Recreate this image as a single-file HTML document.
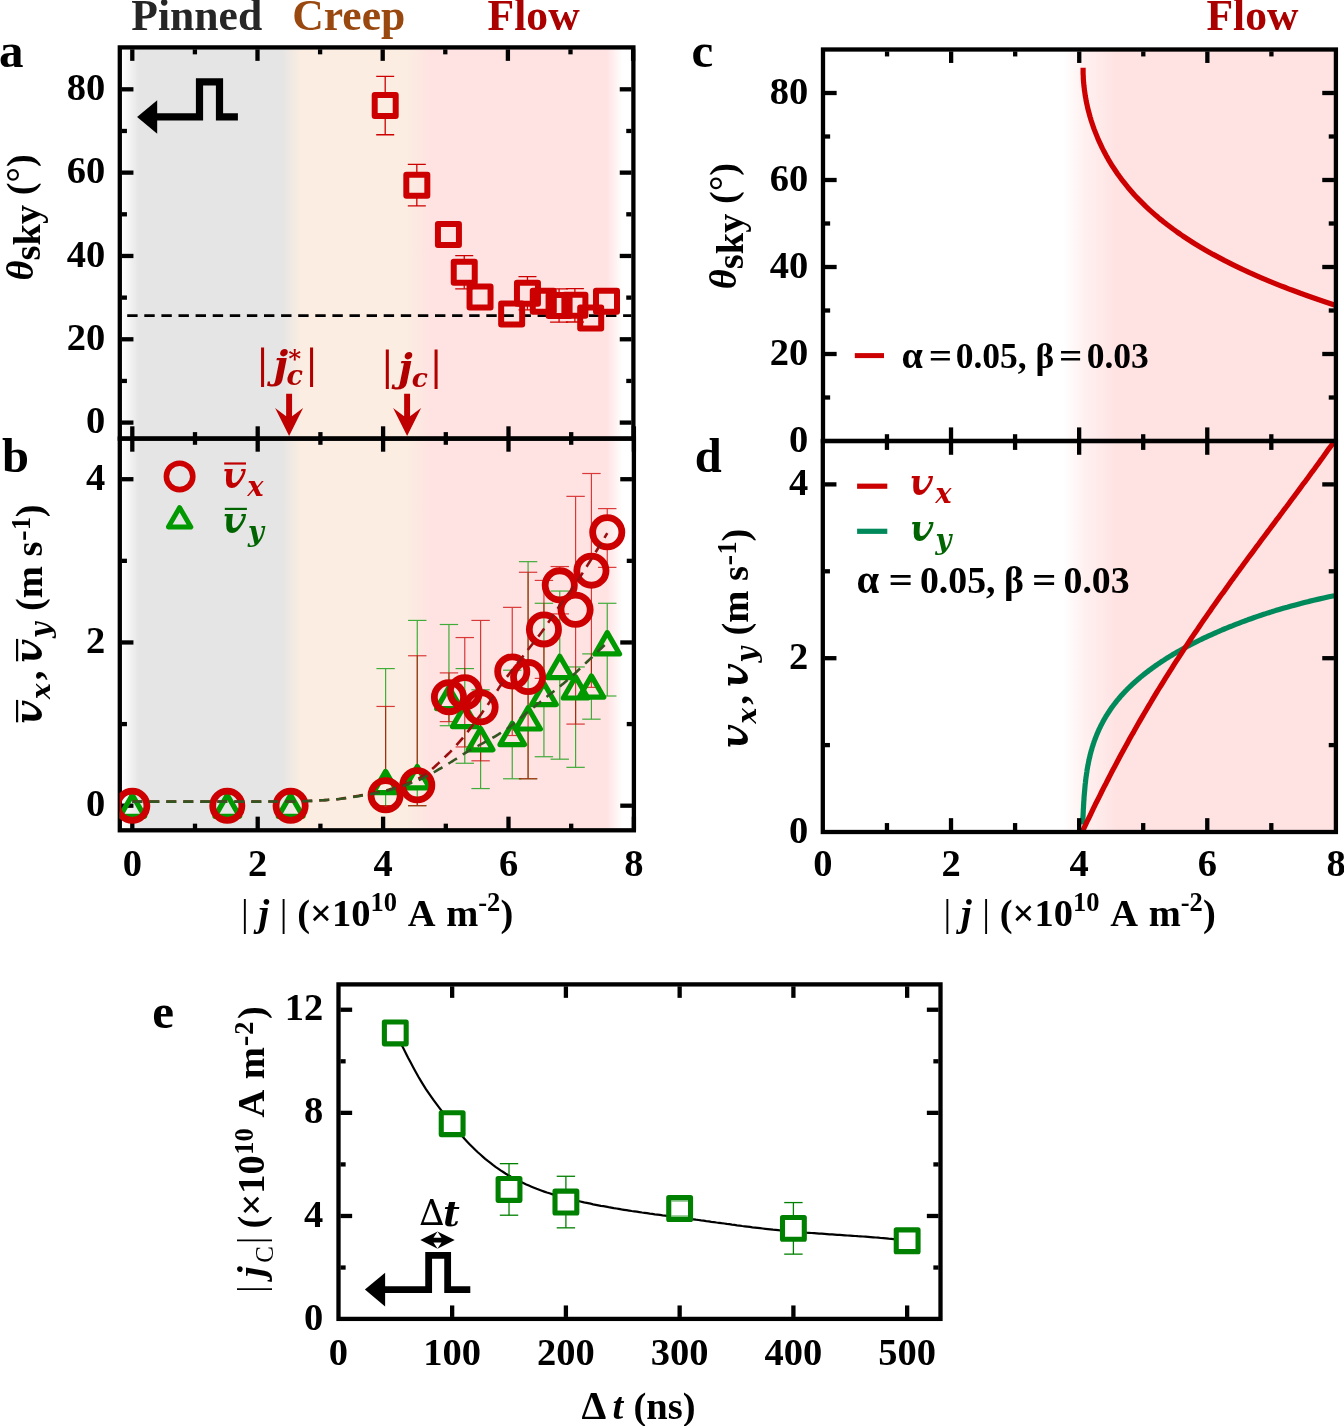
<!DOCTYPE html>
<html lang="en"><head><meta charset="utf-8"><title>Figure</title>
<style>html,body{margin:0;padding:0;background:#fff}svg{display:block;will-change:transform}text{white-space:pre}</style></head>
<body>
<svg width="1344" height="1426" viewBox="0 0 1344 1426">
<defs>
<linearGradient id="gab" gradientUnits="userSpaceOnUse" x1="0" y1="0" x2="1344" y2="0">
<stop offset="0.09040" stop-color="#ffffff"/>
<stop offset="0.10342" stop-color="#e5e5e5"/>
<stop offset="0.20982" stop-color="#e5e5e5"/>
<stop offset="0.22396" stop-color="#fbede1"/>
<stop offset="0.30283" stop-color="#fbede1"/>
<stop offset="0.32106" stop-color="#ffe2e2"/>
<stop offset="0.45126" stop-color="#ffe2e2"/>
<stop offset="0.46317" stop-color="#ffffff"/>
</linearGradient>
<linearGradient id="gcd" gradientUnits="userSpaceOnUse" x1="0" y1="0" x2="1344" y2="0">
<stop offset="0.79092" stop-color="#ffffff"/>
<stop offset="0.80729" stop-color="#fff0f0"/>
<stop offset="0.83185" stop-color="#ffe2e2"/>
<stop offset="1.00000" stop-color="#ffe2e2"/>
</linearGradient>
<clipPath id="clipa"><rect x="119.8" y="47.4" width="513.6" height="391.20000000000005"/></clipPath>
<clipPath id="clipb"><rect x="119.5" y="438.6" width="514.4" height="391.69999999999993"/></clipPath>
<clipPath id="clipd"><rect x="822.8" y="439.0" width="515.1000000000001" height="393.0"/></clipPath>
</defs>
<rect x="119.8" y="47.4" width="514.1" height="782.9" fill="url(#gab)"/>
<rect x="823.0" y="49.5" width="512.9000000000001" height="782.5" fill="url(#gcd)"/>
<text x="131.30" y="30.00" font-family="Liberation Serif, serif" font-size="43.6" font-weight="bold" font-style="normal" text-anchor="start" fill="#262626" >Pinned</text>
<text x="292.30" y="30.00" font-family="Liberation Serif, serif" font-size="43.6" font-weight="bold" font-style="normal" text-anchor="start" fill="#99480f" >Creep</text>
<text x="487.60" y="30.00" font-family="Liberation Serif, serif" font-size="43.6" font-weight="bold" font-style="normal" text-anchor="start" fill="#aa0000" >Flow</text>
<text x="1206.40" y="30.00" font-family="Liberation Serif, serif" font-size="43.6" font-weight="bold" font-style="normal" text-anchor="start" fill="#aa0000" >Flow</text>
<text x="-1.00" y="67.40" font-family="Liberation Serif, serif" font-size="49" font-weight="bold" font-style="normal" text-anchor="start" fill="#000" >a</text>
<text x="2.00" y="471.60" font-family="Liberation Serif, serif" font-size="48.5" font-weight="bold" font-style="normal" text-anchor="start" fill="#000" >b</text>
<text x="691.50" y="67.40" font-family="Liberation Serif, serif" font-size="49" font-weight="bold" font-style="normal" text-anchor="start" fill="#000" >c</text>
<text x="694.80" y="471.60" font-family="Liberation Serif, serif" font-size="48.5" font-weight="bold" font-style="normal" text-anchor="start" fill="#000" >d</text>
<text x="152.30" y="1027.50" font-family="Liberation Serif, serif" font-size="49" font-weight="bold" font-style="normal" text-anchor="start" fill="#000" >e</text>
<rect x="119.80" y="47.40" width="513.60" height="391.20" fill="none" stroke="#000" stroke-width="4.3"/>
<line x1="121.75" y1="422.60" x2="133.45" y2="422.60" stroke="#000" stroke-width="4.3" />
<line x1="631.45" y1="422.60" x2="619.75" y2="422.60" stroke="#000" stroke-width="4.3" />
<line x1="121.75" y1="339.28" x2="133.45" y2="339.28" stroke="#000" stroke-width="4.3" />
<line x1="631.45" y1="339.28" x2="619.75" y2="339.28" stroke="#000" stroke-width="4.3" />
<line x1="121.75" y1="255.96" x2="133.45" y2="255.96" stroke="#000" stroke-width="4.3" />
<line x1="631.45" y1="255.96" x2="619.75" y2="255.96" stroke="#000" stroke-width="4.3" />
<line x1="121.75" y1="172.64" x2="133.45" y2="172.64" stroke="#000" stroke-width="4.3" />
<line x1="631.45" y1="172.64" x2="619.75" y2="172.64" stroke="#000" stroke-width="4.3" />
<line x1="121.75" y1="89.32" x2="133.45" y2="89.32" stroke="#000" stroke-width="4.3" />
<line x1="631.45" y1="89.32" x2="619.75" y2="89.32" stroke="#000" stroke-width="4.3" />
<line x1="121.75" y1="380.94" x2="126.95" y2="380.94" stroke="#000" stroke-width="4.3" />
<line x1="631.45" y1="380.94" x2="626.25" y2="380.94" stroke="#000" stroke-width="4.3" />
<line x1="121.75" y1="297.62" x2="126.95" y2="297.62" stroke="#000" stroke-width="4.3" />
<line x1="631.45" y1="297.62" x2="626.25" y2="297.62" stroke="#000" stroke-width="4.3" />
<line x1="121.75" y1="214.30" x2="126.95" y2="214.30" stroke="#000" stroke-width="4.3" />
<line x1="631.45" y1="214.30" x2="626.25" y2="214.30" stroke="#000" stroke-width="4.3" />
<line x1="121.75" y1="130.98" x2="126.95" y2="130.98" stroke="#000" stroke-width="4.3" />
<line x1="631.45" y1="130.98" x2="626.25" y2="130.98" stroke="#000" stroke-width="4.3" />
<line x1="132.30" y1="49.35" x2="132.30" y2="60.85" stroke="#000" stroke-width="4.3" />
<line x1="257.50" y1="49.35" x2="257.50" y2="60.85" stroke="#000" stroke-width="4.3" />
<line x1="382.70" y1="49.35" x2="382.70" y2="60.85" stroke="#000" stroke-width="4.3" />
<line x1="507.90" y1="49.35" x2="507.90" y2="60.85" stroke="#000" stroke-width="4.3" />
<line x1="633.10" y1="49.35" x2="633.10" y2="60.85" stroke="#000" stroke-width="4.3" />
<line x1="194.90" y1="49.35" x2="194.90" y2="54.35" stroke="#000" stroke-width="4.3" />
<line x1="320.10" y1="49.35" x2="320.10" y2="54.35" stroke="#000" stroke-width="4.3" />
<line x1="445.30" y1="49.35" x2="445.30" y2="54.35" stroke="#000" stroke-width="4.3" />
<line x1="570.50" y1="49.35" x2="570.50" y2="54.35" stroke="#000" stroke-width="4.3" />
<text x="105.30" y="433.20" font-family="Liberation Serif, serif" font-size="38.5" font-weight="bold" font-style="normal" text-anchor="end" fill="#000" >0</text>
<text x="105.30" y="349.88" font-family="Liberation Serif, serif" font-size="38.5" font-weight="bold" font-style="normal" text-anchor="end" fill="#000" >20</text>
<text x="105.30" y="266.56" font-family="Liberation Serif, serif" font-size="38.5" font-weight="bold" font-style="normal" text-anchor="end" fill="#000" >40</text>
<text x="105.30" y="183.24" font-family="Liberation Serif, serif" font-size="38.5" font-weight="bold" font-style="normal" text-anchor="end" fill="#000" >60</text>
<text x="105.30" y="99.92" font-family="Liberation Serif, serif" font-size="38.5" font-weight="bold" font-style="normal" text-anchor="end" fill="#000" >80</text>
<text transform="rotate(-90)" x="-280.50" y="33.40" font-family="Liberation Serif, serif" font-size="38.5" font-weight="bold" fill="#000"><tspan font-style="italic">θ</tspan><tspan dy="7">sky</tspan><tspan dy="-7"> (°)</tspan></text>
<line x1="127.20" y1="315.60" x2="631.40" y2="315.60" stroke="#000" stroke-width="2.6" stroke-dasharray="10.4 6.7"/>
<path d="M237.90,116.95 H219.50 V81.80 H199.50 V116.95 H156.20" fill="none" stroke="#000" stroke-width="7.2" stroke-linejoin="miter"/>
<polygon points="137.10,116.95 157.20,100.20 157.20,133.70" fill="#000"/>
<g clip-path="url(#clipa)">
<g stroke="#cc0000" stroke-width="1.3" opacity="1">
<line x1="385.20" y1="76.41" x2="385.20" y2="93.07"/>
<line x1="385.20" y1="118.07" x2="385.20" y2="134.73"/>
<line x1="376.20" y1="76.41" x2="394.20" y2="76.41"/>
<line x1="376.20" y1="134.73" x2="394.20" y2="134.73"/>
</g>
<g stroke="#cc0000" stroke-width="1.3" opacity="1">
<line x1="416.82" y1="164.31" x2="416.82" y2="172.64"/>
<line x1="416.82" y1="197.64" x2="416.82" y2="205.97"/>
<line x1="407.82" y1="164.31" x2="425.82" y2="164.31"/>
<line x1="407.82" y1="205.97" x2="425.82" y2="205.97"/>
</g>
<g stroke="#cc0000" stroke-width="1.3" opacity="1">
<line x1="464.24" y1="255.54" x2="464.24" y2="259.71"/>
<line x1="464.24" y1="284.71" x2="464.24" y2="288.87"/>
<line x1="455.24" y1="255.54" x2="473.24" y2="255.54"/>
<line x1="455.24" y1="288.87" x2="473.24" y2="288.87"/>
</g>
<g stroke="#cc0000" stroke-width="1.3" opacity="1">
<line x1="527.46" y1="276.54" x2="527.46" y2="280.70"/>
<line x1="527.46" y1="305.70" x2="527.46" y2="309.87"/>
<line x1="518.46" y1="276.54" x2="536.46" y2="276.54"/>
<line x1="518.46" y1="309.87" x2="536.46" y2="309.87"/>
</g>
<g stroke="#cc0000" stroke-width="1.3" opacity="1">
<line x1="559.08" y1="288.87" x2="559.08" y2="293.04"/>
<line x1="559.08" y1="318.04" x2="559.08" y2="322.20"/>
<line x1="550.08" y1="288.87" x2="568.08" y2="288.87"/>
<line x1="550.08" y1="322.20" x2="568.08" y2="322.20"/>
</g>
<g stroke="#cc0000" stroke-width="1.3" opacity="1">
<line x1="574.88" y1="288.66" x2="574.88" y2="292.83"/>
<line x1="574.88" y1="317.83" x2="574.88" y2="321.99"/>
<line x1="565.88" y1="288.66" x2="583.88" y2="288.66"/>
<line x1="565.88" y1="321.99" x2="583.88" y2="321.99"/>
</g>
<rect x="374.70" y="95.07" width="21" height="21" fill="none" stroke="#cc0000" stroke-width="6" stroke-linejoin="round"/>
<rect x="406.32" y="174.64" width="21" height="21" fill="none" stroke="#cc0000" stroke-width="6" stroke-linejoin="round"/>
<rect x="437.93" y="224.01" width="21" height="21" fill="none" stroke="#cc0000" stroke-width="6" stroke-linejoin="round"/>
<rect x="453.74" y="261.71" width="21" height="21" fill="none" stroke="#cc0000" stroke-width="6" stroke-linejoin="round"/>
<rect x="469.54" y="286.50" width="21" height="21" fill="none" stroke="#cc0000" stroke-width="6" stroke-linejoin="round"/>
<rect x="501.16" y="303.49" width="21" height="21" fill="none" stroke="#cc0000" stroke-width="6" stroke-linejoin="round"/>
<rect x="516.96" y="282.70" width="21" height="21" fill="none" stroke="#cc0000" stroke-width="6" stroke-linejoin="round"/>
<rect x="532.77" y="290.87" width="21" height="21" fill="none" stroke="#cc0000" stroke-width="6" stroke-linejoin="round"/>
<rect x="548.58" y="295.04" width="21" height="21" fill="none" stroke="#cc0000" stroke-width="6" stroke-linejoin="round"/>
<rect x="564.38" y="294.83" width="21" height="21" fill="none" stroke="#cc0000" stroke-width="6" stroke-linejoin="round"/>
<rect x="580.19" y="307.53" width="21" height="21" fill="none" stroke="#cc0000" stroke-width="6" stroke-linejoin="round"/>
<rect x="596.00" y="290.87" width="21" height="21" fill="none" stroke="#cc0000" stroke-width="6" stroke-linejoin="round"/>
</g>
<path d="M286.13,393.7 H292.07 V416.3 L303.10,408.0 L289.10,435.9 L275.10,408.0 L286.13,416.3 Z" fill="#c00000"/>
<path d="M404.13,393.7 H410.07 V416.3 L421.10,408.0 L407.10,435.9 L393.10,408.0 L404.13,416.3 Z" fill="#c00000"/>
<text x="257.20" y="379.70" font-family="DejaVu Math TeX Gyre, DejaVu Serif, Liberation Serif, serif" font-size="47.5" fill="#b00000" >|</text>
<text x="267.00" y="378.00" font-family="DejaVu Math TeX Gyre, DejaVu Serif, Liberation Serif, serif" font-size="40" fill="#b00000" >𝒋</text>
<text x="285.30" y="384.50" font-family="DejaVu Math TeX Gyre, DejaVu Serif, Liberation Serif, serif" font-size="27" fill="#b00000" >𝒄</text>
<text x="288.30" y="367.80" font-family="DejaVu Math TeX Gyre, DejaVu Serif, Liberation Serif, serif" font-size="26" fill="#b00000" >*</text>
<text x="306.20" y="379.70" font-family="DejaVu Math TeX Gyre, DejaVu Serif, Liberation Serif, serif" font-size="47.5" fill="#b00000" >|</text>
<text x="381.90" y="382.20" font-family="DejaVu Math TeX Gyre, DejaVu Serif, Liberation Serif, serif" font-size="47.5" fill="#b00000" >|</text>
<text x="391.40" y="380.50" font-family="DejaVu Math TeX Gyre, DejaVu Serif, Liberation Serif, serif" font-size="40" fill="#b00000" >𝒋</text>
<text x="410.60" y="387.00" font-family="DejaVu Math TeX Gyre, DejaVu Serif, Liberation Serif, serif" font-size="26.5" fill="#b00000" >𝒄</text>
<text x="430.70" y="382.20" font-family="DejaVu Math TeX Gyre, DejaVu Serif, Liberation Serif, serif" font-size="47.5" fill="#b00000" >|</text>
<rect x="119.80" y="438.60" width="514.10" height="391.70" fill="none" stroke="#000" stroke-width="4.3"/>
<line x1="121.75" y1="805.70" x2="133.45" y2="805.70" stroke="#000" stroke-width="4.3" />
<line x1="631.95" y1="805.70" x2="620.25" y2="805.70" stroke="#000" stroke-width="4.3" />
<line x1="121.75" y1="642.46" x2="133.45" y2="642.46" stroke="#000" stroke-width="4.3" />
<line x1="631.95" y1="642.46" x2="620.25" y2="642.46" stroke="#000" stroke-width="4.3" />
<line x1="121.75" y1="479.22" x2="133.45" y2="479.22" stroke="#000" stroke-width="4.3" />
<line x1="631.95" y1="479.22" x2="620.25" y2="479.22" stroke="#000" stroke-width="4.3" />
<line x1="121.75" y1="724.08" x2="126.95" y2="724.08" stroke="#000" stroke-width="4.3" />
<line x1="631.95" y1="724.08" x2="626.75" y2="724.08" stroke="#000" stroke-width="4.3" />
<line x1="121.75" y1="560.84" x2="126.95" y2="560.84" stroke="#000" stroke-width="4.3" />
<line x1="631.95" y1="560.84" x2="626.75" y2="560.84" stroke="#000" stroke-width="4.3" />
<line x1="132.30" y1="426.30" x2="132.30" y2="451.70" stroke="#000" stroke-width="4.3" />
<line x1="257.70" y1="426.30" x2="257.70" y2="451.70" stroke="#000" stroke-width="4.3" />
<line x1="383.10" y1="426.30" x2="383.10" y2="451.70" stroke="#000" stroke-width="4.3" />
<line x1="508.50" y1="426.30" x2="508.50" y2="451.70" stroke="#000" stroke-width="4.3" />
<line x1="633.90" y1="426.30" x2="633.90" y2="451.70" stroke="#000" stroke-width="4.3" />
<line x1="195.00" y1="432.10" x2="195.00" y2="444.80" stroke="#000" stroke-width="4.3" />
<line x1="320.40" y1="432.10" x2="320.40" y2="444.80" stroke="#000" stroke-width="4.3" />
<line x1="445.80" y1="432.10" x2="445.80" y2="444.80" stroke="#000" stroke-width="4.3" />
<line x1="571.20" y1="432.10" x2="571.20" y2="444.80" stroke="#000" stroke-width="4.3" />
<line x1="132.30" y1="830.30" x2="132.30" y2="816.65" stroke="#000" stroke-width="4.3" />
<line x1="257.70" y1="830.30" x2="257.70" y2="816.65" stroke="#000" stroke-width="4.3" />
<line x1="383.10" y1="830.30" x2="383.10" y2="816.65" stroke="#000" stroke-width="4.3" />
<line x1="508.50" y1="830.30" x2="508.50" y2="816.65" stroke="#000" stroke-width="4.3" />
<line x1="633.90" y1="830.30" x2="633.90" y2="816.65" stroke="#000" stroke-width="4.3" />
<line x1="195.00" y1="830.30" x2="195.00" y2="823.65" stroke="#000" stroke-width="4.3" />
<line x1="320.40" y1="830.30" x2="320.40" y2="823.65" stroke="#000" stroke-width="4.3" />
<line x1="445.80" y1="830.30" x2="445.80" y2="823.65" stroke="#000" stroke-width="4.3" />
<line x1="571.20" y1="830.30" x2="571.20" y2="823.65" stroke="#000" stroke-width="4.3" />
<g clip-path="url(#clipb)">
<g stroke="#009900" stroke-width="1.2" opacity="0.75">
<line x1="385.61" y1="668.58" x2="385.61" y2="770.53"/>
<line x1="385.61" y1="793.53" x2="385.61" y2="805.70"/>
<line x1="376.41" y1="668.58" x2="394.81" y2="668.58"/>
<line x1="376.41" y1="805.70" x2="394.81" y2="805.70"/>
</g>
<g stroke="#009900" stroke-width="1.2" opacity="0.75">
<line x1="417.27" y1="620.42" x2="417.27" y2="765.63"/>
<line x1="417.27" y1="788.63" x2="417.27" y2="805.70"/>
<line x1="408.07" y1="620.42" x2="426.47" y2="620.42"/>
<line x1="408.07" y1="805.70" x2="426.47" y2="805.70"/>
</g>
<g stroke="#009900" stroke-width="1.2" opacity="0.75">
<line x1="448.94" y1="624.50" x2="448.94" y2="686.46"/>
<line x1="448.94" y1="709.46" x2="448.94" y2="725.71"/>
<line x1="439.74" y1="624.50" x2="458.13" y2="624.50"/>
<line x1="439.74" y1="725.71" x2="458.13" y2="725.71"/>
</g>
<g stroke="#009900" stroke-width="1.2" opacity="0.75">
<line x1="464.77" y1="668.58" x2="464.77" y2="704.42"/>
<line x1="464.77" y1="727.42" x2="464.77" y2="763.26"/>
<line x1="455.57" y1="668.58" x2="473.97" y2="668.58"/>
<line x1="455.57" y1="763.26" x2="473.97" y2="763.26"/>
</g>
<g stroke="#009900" stroke-width="1.2" opacity="0.75">
<line x1="480.60" y1="689.80" x2="480.60" y2="727.68"/>
<line x1="480.60" y1="750.68" x2="480.60" y2="788.56"/>
<line x1="471.40" y1="689.80" x2="489.80" y2="689.80"/>
<line x1="471.40" y1="788.56" x2="489.80" y2="788.56"/>
</g>
<g stroke="#009900" stroke-width="1.2" opacity="0.75">
<line x1="512.26" y1="670.21" x2="512.26" y2="722.37"/>
<line x1="512.26" y1="745.37" x2="512.26" y2="778.77"/>
<line x1="503.06" y1="670.21" x2="521.46" y2="670.21"/>
<line x1="503.06" y1="778.77" x2="521.46" y2="778.77"/>
</g>
<g stroke="#009900" stroke-width="1.2" opacity="0.75">
<line x1="528.09" y1="561.66" x2="528.09" y2="706.87"/>
<line x1="528.09" y1="729.87" x2="528.09" y2="778.77"/>
<line x1="518.89" y1="561.66" x2="537.29" y2="561.66"/>
<line x1="518.89" y1="778.77" x2="537.29" y2="778.77"/>
</g>
<g stroke="#009900" stroke-width="1.2" opacity="0.75">
<line x1="543.93" y1="603.28" x2="543.93" y2="682.38"/>
<line x1="543.93" y1="705.38" x2="543.93" y2="756.73"/>
<line x1="534.73" y1="603.28" x2="553.13" y2="603.28"/>
<line x1="534.73" y1="756.73" x2="553.13" y2="756.73"/>
</g>
<g stroke="#009900" stroke-width="1.2" opacity="0.75">
<line x1="559.76" y1="591.04" x2="559.76" y2="655.45"/>
<line x1="559.76" y1="678.45" x2="559.76" y2="759.18"/>
<line x1="550.56" y1="591.04" x2="568.96" y2="591.04"/>
<line x1="550.56" y1="759.18" x2="568.96" y2="759.18"/>
</g>
<g stroke="#009900" stroke-width="1.2" opacity="0.75">
<line x1="575.59" y1="666.95" x2="575.59" y2="675.85"/>
<line x1="575.59" y1="698.85" x2="575.59" y2="767.34"/>
<line x1="566.39" y1="666.95" x2="584.79" y2="666.95"/>
<line x1="566.39" y1="767.34" x2="584.79" y2="767.34"/>
</g>
<g stroke="#009900" stroke-width="1.2" opacity="0.75">
<line x1="591.42" y1="653.89" x2="591.42" y2="675.03"/>
<line x1="591.42" y1="698.03" x2="591.42" y2="719.18"/>
<line x1="582.22" y1="653.89" x2="600.62" y2="653.89"/>
<line x1="582.22" y1="719.18" x2="600.62" y2="719.18"/>
</g>
<g stroke="#009900" stroke-width="1.2" opacity="0.75">
<line x1="607.25" y1="603.28" x2="607.25" y2="631.78"/>
<line x1="607.25" y1="654.78" x2="607.25" y2="696.00"/>
<line x1="598.05" y1="603.28" x2="616.45" y2="603.28"/>
<line x1="598.05" y1="696.00" x2="616.45" y2="696.00"/>
</g>
<g stroke="#cc0000" stroke-width="1.2" opacity="0.75">
<line x1="385.61" y1="706.45" x2="385.61" y2="778.17"/>
<line x1="376.41" y1="706.45" x2="394.81" y2="706.45"/>
<line x1="376.41" y1="805.70" x2="394.81" y2="805.70"/>
</g>
<g stroke="#cc0000" stroke-width="1.2" opacity="0.75">
<line x1="417.27" y1="655.76" x2="417.27" y2="768.21"/>
<line x1="417.27" y1="802.21" x2="417.27" y2="805.70"/>
<line x1="408.07" y1="655.76" x2="426.47" y2="655.76"/>
<line x1="408.07" y1="805.70" x2="426.47" y2="805.70"/>
</g>
<g stroke="#cc0000" stroke-width="1.2" opacity="0.75">
<line x1="448.94" y1="672.90" x2="448.94" y2="680.15"/>
<line x1="448.94" y1="714.15" x2="448.94" y2="721.63"/>
<line x1="439.74" y1="672.90" x2="458.13" y2="672.90"/>
<line x1="439.74" y1="721.63" x2="458.13" y2="721.63"/>
</g>
<g stroke="#cc0000" stroke-width="1.2" opacity="0.75">
<line x1="464.77" y1="637.56" x2="464.77" y2="675.25"/>
<line x1="464.77" y1="709.25" x2="464.77" y2="746.93"/>
<line x1="455.57" y1="637.56" x2="473.97" y2="637.56"/>
<line x1="455.57" y1="746.93" x2="473.97" y2="746.93"/>
</g>
<g stroke="#cc0000" stroke-width="1.2" opacity="0.75">
<line x1="480.60" y1="620.42" x2="480.60" y2="690.27"/>
<line x1="480.60" y1="724.27" x2="480.60" y2="760.81"/>
<line x1="471.40" y1="620.42" x2="489.80" y2="620.42"/>
<line x1="471.40" y1="760.81" x2="489.80" y2="760.81"/>
</g>
<g stroke="#cc0000" stroke-width="1.2" opacity="0.75">
<line x1="512.26" y1="607.36" x2="512.26" y2="654.44"/>
<line x1="512.26" y1="688.44" x2="512.26" y2="735.51"/>
<line x1="503.06" y1="607.36" x2="521.46" y2="607.36"/>
<line x1="503.06" y1="735.51" x2="521.46" y2="735.51"/>
</g>
<g stroke="#cc0000" stroke-width="1.2" opacity="0.75">
<line x1="528.09" y1="572.27" x2="528.09" y2="660.07"/>
<line x1="528.09" y1="694.07" x2="528.09" y2="778.77"/>
<line x1="518.89" y1="572.27" x2="537.29" y2="572.27"/>
<line x1="518.89" y1="778.77" x2="537.29" y2="778.77"/>
</g>
<g stroke="#cc0000" stroke-width="1.2" opacity="0.75">
<line x1="543.93" y1="580.43" x2="543.93" y2="612.40"/>
<line x1="543.93" y1="646.40" x2="543.93" y2="678.37"/>
<line x1="534.73" y1="580.43" x2="553.13" y2="580.43"/>
<line x1="534.73" y1="678.37" x2="553.13" y2="678.37"/>
</g>
<g stroke="#cc0000" stroke-width="1.2" opacity="0.75">
<line x1="559.76" y1="566.55" x2="559.76" y2="568.33"/>
<line x1="559.76" y1="602.33" x2="559.76" y2="613.89"/>
<line x1="550.56" y1="566.55" x2="568.96" y2="566.55"/>
<line x1="550.56" y1="613.89" x2="568.96" y2="613.89"/>
</g>
<g stroke="#cc0000" stroke-width="1.2" opacity="0.75">
<line x1="575.59" y1="496.36" x2="575.59" y2="592.81"/>
<line x1="575.59" y1="626.81" x2="575.59" y2="724.08"/>
<line x1="566.39" y1="496.36" x2="584.79" y2="496.36"/>
<line x1="566.39" y1="724.08" x2="584.79" y2="724.08"/>
</g>
<g stroke="#cc0000" stroke-width="1.2" opacity="0.75">
<line x1="591.42" y1="473.51" x2="591.42" y2="553.63"/>
<line x1="591.42" y1="587.63" x2="591.42" y2="687.35"/>
<line x1="582.22" y1="473.51" x2="600.62" y2="473.51"/>
<line x1="582.22" y1="687.35" x2="600.62" y2="687.35"/>
</g>
<g stroke="#cc0000" stroke-width="1.2" opacity="0.75">
<line x1="607.25" y1="508.60" x2="607.25" y2="515.27"/>
<line x1="607.25" y1="549.27" x2="607.25" y2="567.37"/>
<line x1="598.05" y1="508.60" x2="616.45" y2="508.60"/>
<line x1="598.05" y1="567.37" x2="616.45" y2="567.37"/>
</g>
<path d="M132.30,795.05 L144.60,816.35 L120.00,816.35 Z" fill="none" stroke="#009900" stroke-width="5.2" stroke-linejoin="round"/>
<path d="M227.29,795.05 L239.59,816.35 L214.99,816.35 Z" fill="none" stroke="#009900" stroke-width="5.2" stroke-linejoin="round"/>
<path d="M290.62,795.05 L302.92,816.35 L278.32,816.35 Z" fill="none" stroke="#009900" stroke-width="5.2" stroke-linejoin="round"/>
<path d="M385.61,771.38 L397.91,792.68 L373.31,792.68 Z" fill="none" stroke="#009900" stroke-width="5.2" stroke-linejoin="round"/>
<path d="M417.27,766.48 L429.57,787.79 L404.97,787.79 Z" fill="none" stroke="#009900" stroke-width="5.2" stroke-linejoin="round"/>
<path d="M448.94,687.31 L461.24,708.61 L436.63,708.61 Z" fill="none" stroke="#009900" stroke-width="5.2" stroke-linejoin="round"/>
<path d="M464.77,705.27 L477.07,726.57 L452.47,726.57 Z" fill="none" stroke="#009900" stroke-width="5.2" stroke-linejoin="round"/>
<path d="M480.60,728.53 L492.90,749.83 L468.30,749.83 Z" fill="none" stroke="#009900" stroke-width="5.2" stroke-linejoin="round"/>
<path d="M512.26,723.22 L524.56,744.53 L499.96,744.53 Z" fill="none" stroke="#009900" stroke-width="5.2" stroke-linejoin="round"/>
<path d="M528.09,707.71 L540.39,729.02 L515.79,729.02 Z" fill="none" stroke="#009900" stroke-width="5.2" stroke-linejoin="round"/>
<path d="M543.93,683.23 L556.23,704.53 L531.63,704.53 Z" fill="none" stroke="#009900" stroke-width="5.2" stroke-linejoin="round"/>
<path d="M559.76,656.29 L572.06,677.60 L547.46,677.60 Z" fill="none" stroke="#009900" stroke-width="5.2" stroke-linejoin="round"/>
<path d="M575.59,676.70 L587.89,698.00 L563.29,698.00 Z" fill="none" stroke="#009900" stroke-width="5.2" stroke-linejoin="round"/>
<path d="M591.42,675.88 L603.72,697.19 L579.12,697.19 Z" fill="none" stroke="#009900" stroke-width="5.2" stroke-linejoin="round"/>
<path d="M607.25,632.62 L619.55,653.93 L594.95,653.93 Z" fill="none" stroke="#009900" stroke-width="5.2" stroke-linejoin="round"/>
<circle cx="132.30" cy="805.70" r="14.6" fill="none" stroke="#cc0000" stroke-width="6.8"/>
<circle cx="227.29" cy="805.70" r="14.6" fill="none" stroke="#cc0000" stroke-width="6.8"/>
<circle cx="290.62" cy="805.70" r="14.6" fill="none" stroke="#cc0000" stroke-width="6.8"/>
<circle cx="385.61" cy="795.17" r="14.6" fill="none" stroke="#cc0000" stroke-width="6.8"/>
<circle cx="417.27" cy="785.21" r="14.6" fill="none" stroke="#cc0000" stroke-width="6.8"/>
<circle cx="448.94" cy="697.15" r="14.6" fill="none" stroke="#cc0000" stroke-width="6.8"/>
<circle cx="464.77" cy="692.25" r="14.6" fill="none" stroke="#cc0000" stroke-width="6.8"/>
<circle cx="480.60" cy="707.27" r="14.6" fill="none" stroke="#cc0000" stroke-width="6.8"/>
<circle cx="512.26" cy="671.44" r="14.6" fill="none" stroke="#cc0000" stroke-width="6.8"/>
<circle cx="528.09" cy="677.07" r="14.6" fill="none" stroke="#cc0000" stroke-width="6.8"/>
<circle cx="543.93" cy="629.40" r="14.6" fill="none" stroke="#cc0000" stroke-width="6.8"/>
<circle cx="559.76" cy="585.33" r="14.6" fill="none" stroke="#cc0000" stroke-width="6.8"/>
<circle cx="575.59" cy="609.81" r="14.6" fill="none" stroke="#cc0000" stroke-width="6.8"/>
<circle cx="591.42" cy="570.63" r="14.6" fill="none" stroke="#cc0000" stroke-width="6.8"/>
<circle cx="607.25" cy="532.27" r="14.6" fill="none" stroke="#cc0000" stroke-width="6.8"/>
<polyline points="132.3,801.6 134.3,801.6 136.3,801.6 138.3,801.6 140.2,801.6 142.2,801.6 144.2,801.6 146.2,801.6 148.2,801.6 150.2,801.6 152.2,801.6 154.2,801.6 156.1,801.6 158.1,801.6 160.1,801.6 162.1,801.6 164.1,801.6 166.1,801.6 168.1,801.6 170.1,801.6 172.0,801.6 174.0,801.6 176.0,801.6 178.0,801.6 180.0,801.6 182.0,801.6 184.0,801.6 186.0,801.6 187.9,801.6 189.9,801.6 191.9,801.6 193.9,801.6 195.9,801.6 197.9,801.6 199.9,801.6 201.9,801.6 203.8,801.6 205.8,801.6 207.8,801.6 209.8,801.6 211.8,801.6 213.8,801.6 215.8,801.6 217.8,801.6 219.7,801.6 221.7,801.6 223.7,801.6 225.7,801.6 227.7,801.6 229.7,801.6 231.7,801.6 233.6,801.6 235.6,801.6 237.6,801.6 239.6,801.6 241.6,801.6 243.6,801.6 245.6,801.6 247.6,801.6 249.5,801.6 251.5,801.6 253.5,801.6 255.5,801.6 257.5,801.6 259.5,801.6 261.5,801.6 263.5,801.6 265.4,801.6 267.4,801.5 269.4,801.5 271.4,801.5 273.4,801.5 275.4,801.5 277.4,801.5 279.4,801.5 281.3,801.5 283.3,801.5 285.3,801.5 287.3,801.5 289.3,801.5 291.3,801.4 293.3,801.4 295.3,801.4 297.2,801.3 299.2,801.3 301.2,801.2 303.2,801.2 305.2,801.1 307.2,801.0 309.2,801.0 311.2,800.9 313.1,800.8 315.1,800.7 317.1,800.6 319.1,800.5 321.1,800.3 323.1,800.2 325.1,800.1 327.1,800.0 329.0,799.8 331.0,799.7 333.0,799.6 335.0,799.4 337.0,799.2 339.0,799.0 341.0,798.7 342.9,798.4 344.9,798.1 346.9,797.8 348.9,797.5 350.9,797.1 352.9,796.7 354.9,796.4 356.9,796.0 358.8,795.7 360.8,795.3 362.8,795.0 364.8,794.7 366.8,794.3 368.8,794.0 370.8,793.6 372.8,793.2 374.7,792.8 376.7,792.4 378.7,792.0 380.7,791.6 382.7,791.1 384.7,790.7 386.7,790.2 388.7,789.7 390.6,789.1 392.6,788.6 394.6,788.0 396.6,787.4 398.6,786.7 400.6,786.1 402.6,785.4 404.6,784.7 406.5,783.9 408.5,783.1 410.5,782.3 412.5,781.4 414.5,780.5 416.5,779.6 418.5,778.6 420.5,777.4 422.4,776.2 424.4,774.9 426.4,773.5 428.4,772.0 430.4,770.4 432.4,768.7 434.4,767.0 436.3,765.2 438.3,763.4 440.3,761.5 442.3,759.6 444.3,757.7 446.3,755.7 448.3,753.8 450.3,751.8 452.2,749.8 454.2,747.7 456.2,745.5 458.2,743.2 460.2,740.9 462.2,738.6 464.2,736.1 466.2,733.7 468.1,731.2 470.1,728.6 472.1,726.0 474.1,723.4 476.1,720.8 478.1,718.1 480.1,715.4 482.1,712.7 484.0,710.0 486.0,707.3 488.0,704.4 490.0,701.5 492.0,698.5 494.0,695.4 496.0,692.4 498.0,689.4 499.9,686.4 501.9,683.6 503.9,680.9 505.9,678.2 507.9,675.6 509.9,673.0 511.9,670.4 513.9,667.9 515.8,665.4 517.8,662.8 519.8,660.3 521.8,657.8 523.8,655.2 525.8,652.6 527.8,650.1 529.7,647.5 531.7,645.0 533.7,642.5 535.7,639.9 537.7,637.3 539.7,634.7 541.7,632.1 543.7,629.3 545.6,626.5 547.6,623.6 549.6,620.6 551.6,617.6 553.6,614.6 555.6,611.6 557.6,608.7 559.6,605.8 561.5,603.0 563.5,600.3 565.5,597.6 567.5,594.9 569.5,592.2 571.5,589.5 573.5,586.7 575.5,583.9 577.4,580.9 579.4,577.9 581.4,574.9 583.4,571.7 585.4,568.6 587.4,565.4 589.4,562.2 591.4,559.1 593.3,555.9 595.3,552.7 597.3,549.5 599.3,546.2 601.3,543.0 603.3,539.7 605.3,536.4 607.3,533.1" fill="none" stroke="#990f0f" stroke-width="2.6" stroke-dasharray="10 7"/>
<polyline points="132.3,801.6 134.3,801.6 136.3,801.6 138.3,801.6 140.2,801.6 142.2,801.6 144.2,801.6 146.2,801.6 148.2,801.6 150.2,801.6 152.2,801.6 154.2,801.6 156.1,801.6 158.1,801.6 160.1,801.6 162.1,801.6 164.1,801.6 166.1,801.6 168.1,801.6 170.1,801.6 172.0,801.6 174.0,801.6 176.0,801.6 178.0,801.6 180.0,801.6 182.0,801.6 184.0,801.6 186.0,801.6 187.9,801.6 189.9,801.6 191.9,801.6 193.9,801.6 195.9,801.6 197.9,801.6 199.9,801.6 201.9,801.6 203.8,801.6 205.8,801.6 207.8,801.6 209.8,801.6 211.8,801.6 213.8,801.6 215.8,801.6 217.8,801.6 219.7,801.6 221.7,801.6 223.7,801.6 225.7,801.6 227.7,801.6 229.7,801.6 231.7,801.6 233.6,801.6 235.6,801.6 237.6,801.6 239.6,801.6 241.6,801.6 243.6,801.6 245.6,801.6 247.6,801.6 249.5,801.6 251.5,801.6 253.5,801.6 255.5,801.6 257.5,801.6 259.5,801.6 261.5,801.6 263.5,801.6 265.4,801.6 267.4,801.5 269.4,801.5 271.4,801.5 273.4,801.5 275.4,801.5 277.4,801.5 279.4,801.5 281.3,801.5 283.3,801.5 285.3,801.5 287.3,801.5 289.3,801.5 291.3,801.4 293.3,801.4 295.3,801.4 297.2,801.3 299.2,801.3 301.2,801.2 303.2,801.2 305.2,801.1 307.2,801.0 309.2,800.9 311.2,800.9 313.1,800.8 315.1,800.7 317.1,800.6 319.1,800.4 321.1,800.3 323.1,800.2 325.1,800.1 327.1,800.0 329.0,799.8 331.0,799.7 333.0,799.6 335.0,799.4 337.0,799.2 339.0,799.0 341.0,798.8 342.9,798.5 344.9,798.3 346.9,798.0 348.9,797.7 350.9,797.4 352.9,797.0 354.9,796.7 356.9,796.4 358.8,796.1 360.8,795.8 362.8,795.4 364.8,795.1 366.8,794.8 368.8,794.4 370.8,794.1 372.8,793.7 374.7,793.3 376.7,792.9 378.7,792.5 380.7,792.1 382.7,791.7 384.7,791.2 386.7,790.8 388.7,790.3 390.6,789.7 392.6,789.2 394.6,788.6 396.6,788.0 398.6,787.4 400.6,786.8 402.6,786.1 404.6,785.5 406.5,784.8 408.5,784.0 410.5,783.3 412.5,782.5 414.5,781.8 416.5,781.0 418.5,780.1 420.5,779.3 422.4,778.3 424.4,777.4 426.4,776.4 428.4,775.3 430.4,774.2 432.4,773.1 434.4,772.0 436.3,770.8 438.3,769.6 440.3,768.5 442.3,767.3 444.3,766.1 446.3,764.9 448.3,763.7 450.3,762.5 452.2,761.3 454.2,760.0 456.2,758.8 458.2,757.4 460.2,756.1 462.2,754.8 464.2,753.6 466.2,752.3 468.1,751.1 470.1,750.0 472.1,748.9 474.1,747.8 476.1,746.8 478.1,745.8 480.1,744.7 482.1,743.7 484.0,742.6 486.0,741.4 488.0,740.3 490.0,739.2 492.0,738.1 494.0,737.0 496.0,735.8 498.0,734.6 499.9,733.4 501.9,732.2 503.9,730.9 505.9,729.6 507.9,728.2 509.9,726.7 511.9,725.1 513.9,723.5 515.8,721.9 517.8,720.2 519.8,718.6 521.8,716.9 523.8,715.3 525.8,713.6 527.8,712.0 529.7,710.4 531.7,708.9 533.7,707.3 535.7,705.7 537.7,704.1 539.7,702.5 541.7,700.9 543.7,699.3 545.6,697.7 547.6,696.1 549.6,694.5 551.6,693.0 553.6,691.4 555.6,689.8 557.6,688.2 559.6,686.7 561.5,685.1 563.5,683.4 565.5,681.8 567.5,680.1 569.5,678.3 571.5,676.6 573.5,674.7 575.5,672.9 577.4,671.0 579.4,669.1 581.4,667.2 583.4,665.3 585.4,663.4 587.4,661.5 589.4,659.6 591.4,657.7 593.3,655.8 595.3,653.9 597.3,652.0 599.3,650.1 601.3,648.2 603.3,646.3 605.3,644.4 607.3,642.5" fill="none" stroke="#335522" stroke-width="2.6" stroke-dasharray="10 7"/>
</g>
<text x="105.30" y="816.30" font-family="Liberation Serif, serif" font-size="38.5" font-weight="bold" font-style="normal" text-anchor="end" fill="#000" >0</text>
<text x="105.30" y="653.06" font-family="Liberation Serif, serif" font-size="38.5" font-weight="bold" font-style="normal" text-anchor="end" fill="#000" >2</text>
<text x="105.30" y="489.82" font-family="Liberation Serif, serif" font-size="38.5" font-weight="bold" font-style="normal" text-anchor="end" fill="#000" >4</text>
<text x="132.30" y="876.40" font-family="Liberation Serif, serif" font-size="38.5" font-weight="bold" font-style="normal" text-anchor="middle" fill="#000" >0</text>
<text x="257.70" y="876.40" font-family="Liberation Serif, serif" font-size="38.5" font-weight="bold" font-style="normal" text-anchor="middle" fill="#000" >2</text>
<text x="383.10" y="876.40" font-family="Liberation Serif, serif" font-size="38.5" font-weight="bold" font-style="normal" text-anchor="middle" fill="#000" >4</text>
<text x="508.50" y="876.40" font-family="Liberation Serif, serif" font-size="38.5" font-weight="bold" font-style="normal" text-anchor="middle" fill="#000" >6</text>
<text x="633.90" y="876.40" font-family="Liberation Serif, serif" font-size="38.5" font-weight="bold" font-style="normal" text-anchor="middle" fill="#000" >8</text>
<circle cx="179.60" cy="476.40" r="13.2" fill="none" stroke="#cc0000" stroke-width="5.6"/>
<path d="M179.60,507.56 L190.85,527.04 L168.35,527.04 Z" fill="none" stroke="#009900" stroke-width="4.9" stroke-linejoin="round"/>
<text x="221.20" y="488.00" font-family="DejaVu Math TeX Gyre, DejaVu Serif, Liberation Serif, serif" font-size="37.8" fill="#c00000" >𝒗</text>
<text x="244.80" y="495.60" font-family="DejaVu Math TeX Gyre, DejaVu Serif, Liberation Serif, serif" font-size="27" fill="#c00000" >𝒙</text>
<line x1="224.20" y1="463.50" x2="246.00" y2="463.50" stroke="#c00000" stroke-width="2.2" />
<text x="221.50" y="533.30" font-family="DejaVu Math TeX Gyre, DejaVu Serif, Liberation Serif, serif" font-size="37.8" fill="#006400" >𝒗</text>
<text x="245.30" y="540.90" font-family="DejaVu Math TeX Gyre, DejaVu Serif, Liberation Serif, serif" font-size="27.4" fill="#006400" >𝒚</text>
<line x1="224.80" y1="508.90" x2="246.90" y2="508.90" stroke="#006400" stroke-width="2.2" />
<text x="-725.38" y="42.10" font-family="DejaVu Math TeX Gyre, DejaVu Serif, Liberation Serif, serif" font-size="38.5" fill="#000" transform="rotate(-90)">𝒗</text>
<text x="-701.82" y="50.10" font-family="DejaVu Math TeX Gyre, DejaVu Serif, Liberation Serif, serif" font-size="26.5" fill="#000" transform="rotate(-90)">𝒙</text>
<text x="-680.30" y="42.10" font-family="Liberation Serif, serif" font-size="38.5" font-weight="bold" font-style="normal" text-anchor="start" fill="#000" transform="rotate(-90)">,</text>
<text x="-664.38" y="42.10" font-family="DejaVu Math TeX Gyre, DejaVu Serif, Liberation Serif, serif" font-size="38.5" fill="#000" transform="rotate(-90)">𝒗</text>
<text x="-640.86" y="49.90" font-family="DejaVu Math TeX Gyre, DejaVu Serif, Liberation Serif, serif" font-size="27" fill="#000" transform="rotate(-90)">𝒚</text>
<text transform="rotate(-90)" x="-611.10" y="42.10" font-family="Liberation Serif, serif" font-size="38.5" font-weight="bold" fill="#000">(m s<tspan font-size="32" dy="-10.3" dx="0.6">-</tspan><tspan font-size="26.5" dy="-1.5" dx="0.3">1</tspan><tspan dy="11.8" dx="-0.4">)</tspan></text>
<line x1="17.10" y1="722.30" x2="17.10" y2="699.90" stroke="#000" stroke-width="2.2"/>
<line x1="17.10" y1="661.30" x2="17.10" y2="638.90" stroke="#000" stroke-width="2.2"/>
<text x="241.10" y="925.80" font-family="Liberation Serif, serif" font-size="38.5" font-weight="normal" font-style="normal" text-anchor="start" fill="#000" >|</text>
<text x="258.40" y="925.80" font-family="Liberation Serif, serif" font-size="38.5" font-weight="bold" font-style="italic" text-anchor="start" fill="#000" >j</text>
<text x="279.80" y="925.80" font-family="Liberation Serif, serif" font-size="38.5" font-weight="normal" font-style="normal" text-anchor="start" fill="#000" >|</text>
<text x="297.25" y="925.80" font-family="Liberation Serif, serif" font-size="38.5" font-weight="bold" fill="#000" word-spacing="3.2">(×10<tspan font-size="26.5" dy="-15.3">10</tspan><tspan dy="15.3"> A m</tspan><tspan font-size="26.5" dy="-15.3">-2</tspan><tspan dy="15.3">)</tspan></text>
<polyline points="1083.1,67.7 1083.1,69.2 1083.1,70.7 1083.1,72.2 1083.1,73.7 1083.2,75.2 1083.3,76.7 1083.3,78.2 1083.4,79.6 1083.5,81.1 1083.6,82.6 1083.8,84.1 1083.9,85.6 1084.1,87.1 1084.3,88.6 1084.4,90.1 1084.7,91.6 1084.9,93.1 1085.1,94.6 1085.3,96.1 1085.6,97.6 1085.9,99.1 1086.1,100.6 1086.4,102.1 1086.7,103.5 1087.1,105.0 1087.4,106.5 1087.7,108.0 1088.1,109.5 1088.5,111.0 1088.9,112.5 1089.3,114.0 1089.7,115.5 1090.1,117.0 1090.6,118.5 1091.0,120.0 1091.5,121.5 1092.0,123.0 1092.5,124.5 1093.0,126.0 1093.5,127.4 1094.0,128.9 1094.6,130.4 1095.2,131.9 1095.8,133.4 1096.4,134.9 1097.0,136.4 1097.6,137.9 1098.2,139.4 1098.9,140.9 1099.6,142.4 1100.3,143.9 1101.0,145.4 1101.7,146.9 1102.4,148.4 1103.2,149.9 1103.9,151.3 1104.7,152.8 1105.5,154.3 1106.3,155.8 1107.2,157.3 1108.0,158.8 1108.9,160.3 1109.8,161.8 1110.7,163.3 1111.6,164.8 1112.5,166.3 1113.5,167.8 1114.5,169.3 1115.5,170.8 1116.5,172.3 1117.5,173.8 1118.6,175.2 1119.7,176.7 1120.8,178.2 1121.9,179.7 1123.0,181.2 1124.2,182.7 1125.4,184.2 1126.6,185.7 1127.8,187.2 1129.1,188.7 1130.4,190.2 1131.7,191.7 1133.0,193.2 1134.3,194.7 1135.7,196.2 1137.1,197.7 1138.5,199.1 1140.0,200.6 1141.5,202.1 1143.0,203.6 1144.5,205.1 1146.0,206.6 1147.6,208.1 1149.2,209.6 1150.9,211.1 1152.6,212.6 1154.3,214.1 1156.0,215.6 1157.8,217.1 1159.5,218.6 1161.4,220.1 1163.2,221.6 1165.1,223.0 1167.0,224.5 1169.0,226.0 1171.0,227.5 1173.0,229.0 1175.1,230.5 1177.1,232.0 1179.3,233.5 1181.4,235.0 1183.6,236.5 1185.9,238.0 1188.2,239.5 1190.5,241.0 1192.8,242.5 1195.2,244.0 1197.7,245.5 1200.1,246.9 1202.7,248.4 1205.2,249.9 1207.8,251.4 1210.5,252.9 1213.1,254.4 1215.9,255.9 1218.7,257.4 1221.5,258.9 1224.3,260.4 1227.3,261.9 1230.2,263.4 1233.2,264.9 1236.3,266.4 1239.4,267.9 1242.6,269.4 1245.8,270.8 1249.0,272.3 1252.4,273.8 1255.7,275.3 1259.1,276.8 1262.6,278.3 1266.2,279.8 1269.7,281.3 1273.4,282.8 1277.1,284.3 1280.8,285.8 1284.7,287.3 1288.5,288.8 1292.5,290.3 1296.5,291.8 1300.5,293.3 1304.6,294.7 1308.8,296.2 1313.1,297.7 1317.4,299.2 1321.8,300.7 1326.2,302.2 1330.7,303.7 1335.3,305.2" fill="none" stroke="#cc0000" stroke-width="5.2" stroke-linejoin="round"/>
<rect x="823.00" y="49.50" width="512.90" height="391.50" fill="none" stroke="#000" stroke-width="4.3"/>
<line x1="824.95" y1="354.00" x2="836.65" y2="354.00" stroke="#000" stroke-width="4.3" />
<line x1="1333.95" y1="354.00" x2="1322.25" y2="354.00" stroke="#000" stroke-width="4.3" />
<line x1="824.95" y1="267.00" x2="836.65" y2="267.00" stroke="#000" stroke-width="4.3" />
<line x1="1333.95" y1="267.00" x2="1322.25" y2="267.00" stroke="#000" stroke-width="4.3" />
<line x1="824.95" y1="180.00" x2="836.65" y2="180.00" stroke="#000" stroke-width="4.3" />
<line x1="1333.95" y1="180.00" x2="1322.25" y2="180.00" stroke="#000" stroke-width="4.3" />
<line x1="824.95" y1="93.00" x2="836.65" y2="93.00" stroke="#000" stroke-width="4.3" />
<line x1="1333.95" y1="93.00" x2="1322.25" y2="93.00" stroke="#000" stroke-width="4.3" />
<line x1="824.95" y1="397.50" x2="830.15" y2="397.50" stroke="#000" stroke-width="4.3" />
<line x1="1333.95" y1="397.50" x2="1328.75" y2="397.50" stroke="#000" stroke-width="4.3" />
<line x1="824.95" y1="310.50" x2="830.15" y2="310.50" stroke="#000" stroke-width="4.3" />
<line x1="1333.95" y1="310.50" x2="1328.75" y2="310.50" stroke="#000" stroke-width="4.3" />
<line x1="824.95" y1="223.50" x2="830.15" y2="223.50" stroke="#000" stroke-width="4.3" />
<line x1="1333.95" y1="223.50" x2="1328.75" y2="223.50" stroke="#000" stroke-width="4.3" />
<line x1="824.95" y1="136.50" x2="830.15" y2="136.50" stroke="#000" stroke-width="4.3" />
<line x1="1333.95" y1="136.50" x2="1328.75" y2="136.50" stroke="#000" stroke-width="4.3" />
<line x1="951.12" y1="51.45" x2="951.12" y2="62.95" stroke="#000" stroke-width="4.3" />
<line x1="1079.24" y1="51.45" x2="1079.24" y2="62.95" stroke="#000" stroke-width="4.3" />
<line x1="1207.36" y1="51.45" x2="1207.36" y2="62.95" stroke="#000" stroke-width="4.3" />
<line x1="887.06" y1="51.45" x2="887.06" y2="56.45" stroke="#000" stroke-width="4.3" />
<line x1="1015.18" y1="51.45" x2="1015.18" y2="56.45" stroke="#000" stroke-width="4.3" />
<line x1="1143.30" y1="51.45" x2="1143.30" y2="56.45" stroke="#000" stroke-width="4.3" />
<line x1="1271.42" y1="51.45" x2="1271.42" y2="56.45" stroke="#000" stroke-width="4.3" />
<text x="808.30" y="451.60" font-family="Liberation Serif, serif" font-size="38.5" font-weight="bold" font-style="normal" text-anchor="end" fill="#000" >0</text>
<text x="808.30" y="364.60" font-family="Liberation Serif, serif" font-size="38.5" font-weight="bold" font-style="normal" text-anchor="end" fill="#000" >20</text>
<text x="808.30" y="277.60" font-family="Liberation Serif, serif" font-size="38.5" font-weight="bold" font-style="normal" text-anchor="end" fill="#000" >40</text>
<text x="808.30" y="190.60" font-family="Liberation Serif, serif" font-size="38.5" font-weight="bold" font-style="normal" text-anchor="end" fill="#000" >60</text>
<text x="808.30" y="103.60" font-family="Liberation Serif, serif" font-size="38.5" font-weight="bold" font-style="normal" text-anchor="end" fill="#000" >80</text>
<text transform="rotate(-90)" x="-289.20" y="735.90" font-family="Liberation Serif, serif" font-size="38.5" font-weight="bold" fill="#000"><tspan font-style="italic">θ</tspan><tspan dy="7">sky</tspan><tspan dy="-7"> (°)</tspan></text>
<line x1="854.80" y1="355.60" x2="884.00" y2="355.60" stroke="#cc0000" stroke-width="5" />
<text x="901.60" y="367.60" font-family="Liberation Serif, serif" font-size="38.26623376623377" font-weight="bold" font-style="normal" text-anchor="start" fill="#000" >α</text>
<text x="928.65" y="367.60" font-family="Liberation Serif, serif" font-size="35.5" font-weight="bold" font-style="normal" text-anchor="start" fill="#000" textLength="23.4" lengthAdjust="spacingAndGlyphs">=</text>
<text x="955.70" y="367.60" font-family="Liberation Serif, serif" font-size="35.5" font-weight="bold" font-style="normal" text-anchor="start" fill="#000" >0.05,</text>
<text x="1035.50" y="367.60" font-family="Liberation Serif, serif" font-size="35.5" font-weight="bold" font-style="normal" text-anchor="start" fill="#000" >β</text>
<text x="1058.95" y="367.60" font-family="Liberation Serif, serif" font-size="35.5" font-weight="bold" font-style="normal" text-anchor="start" fill="#000" textLength="23.4" lengthAdjust="spacingAndGlyphs">=</text>
<text x="1086.70" y="367.60" font-family="Liberation Serif, serif" font-size="35.5" font-weight="bold" font-style="normal" text-anchor="start" fill="#000" >0.03</text>
<g clip-path="url(#clipd)">
<polyline points="1334.3,595.7 1328.9,596.8 1323.7,598.0 1318.6,599.1 1313.7,600.3 1309.0,601.4 1304.4,602.6 1299.9,603.7 1295.5,604.9 1291.3,606.0 1287.2,607.2 1283.1,608.3 1279.2,609.5 1275.4,610.6 1271.7,611.8 1268.0,612.9 1264.5,614.1 1261.0,615.2 1257.6,616.4 1254.3,617.5 1251.0,618.7 1247.8,619.8 1244.7,621.0 1241.6,622.1 1238.6,623.3 1235.7,624.4 1232.8,625.6 1229.9,626.7 1227.1,627.9 1224.3,629.0 1221.6,630.2 1218.9,631.3 1216.3,632.5 1213.7,633.6 1211.1,634.8 1208.6,635.9 1206.1,637.1 1203.7,638.2 1201.3,639.4 1198.9,640.5 1196.6,641.7 1194.3,642.8 1192.1,644.0 1189.8,645.1 1187.6,646.3 1185.5,647.4 1183.4,648.6 1181.3,649.7 1179.2,650.9 1177.2,652.0 1175.2,653.2 1173.3,654.3 1171.4,655.5 1169.5,656.6 1167.6,657.8 1165.8,658.9 1164.0,660.1 1162.2,661.2 1160.5,662.4 1158.8,663.5 1157.1,664.7 1155.4,665.8 1153.8,667.0 1152.2,668.1 1150.6,669.3 1149.1,670.4 1147.6,671.6 1146.1,672.7 1144.6,673.9 1143.2,675.0 1141.7,676.2 1140.3,677.3 1139.0,678.5 1137.6,679.6 1136.3,680.8 1135.0,681.9 1133.8,683.1 1132.5,684.2 1131.3,685.4 1130.1,686.5 1128.9,687.7 1127.7,688.8 1126.6,690.0 1125.5,691.1 1124.4,692.3 1123.3,693.4 1122.3,694.6 1121.2,695.7 1120.2,696.9 1119.3,698.0 1118.3,699.2 1117.3,700.3 1116.4,701.5 1115.5,702.6 1114.6,703.8 1113.7,704.9 1112.9,706.1 1112.0,707.2 1111.2,708.4 1110.4,709.5 1109.6,710.7 1108.9,711.8 1108.1,713.0 1107.4,714.1 1106.7,715.3 1105.9,716.4 1105.3,717.6 1104.6,718.7 1103.9,719.9 1103.3,721.0 1102.7,722.2 1102.1,723.3 1101.5,724.5 1100.9,725.6 1100.3,726.8 1099.8,727.9 1099.2,729.1 1098.7,730.2 1098.2,731.4 1097.7,732.5 1097.2,733.7 1096.7,734.8 1096.3,736.0 1095.8,737.1 1095.4,738.3 1094.9,739.4 1094.5,740.6 1094.1,741.7 1093.7,742.9 1093.3,744.0 1093.0,745.2 1092.6,746.3 1092.2,747.5 1091.9,748.6 1091.6,749.8 1091.2,750.9 1090.9,752.1 1090.6,753.2 1090.3,754.4 1090.0,755.5 1089.8,756.7 1089.5,757.8 1089.2,759.0 1089.0,760.1 1088.7,761.3 1088.5,762.4 1088.3,763.6 1088.1,764.7 1087.8,765.9 1087.6,767.0 1087.4,768.2 1087.2,769.3 1087.0,770.5 1086.9,771.6 1086.7,772.8 1086.5,773.9 1086.4,775.1 1086.2,776.2 1086.0,777.4 1085.9,778.5 1085.7,779.7 1085.6,780.8 1085.5,782.0 1085.4,783.1 1085.2,784.3 1085.1,785.4 1085.0,786.6 1084.9,787.7 1084.8,788.9 1084.7,790.0 1084.6,791.2 1084.5,792.3 1084.4,793.5 1084.3,794.6 1084.2,795.8 1084.1,796.9 1084.0,798.1 1084.0,799.2 1083.9,800.4 1083.8,801.5 1083.7,802.7 1083.7,803.8 1083.6,805.0 1083.5,806.1 1083.5,807.3 1083.4,808.4 1083.3,809.6 1083.3,810.7 1083.2,811.9 1083.2,813.0 1083.1,814.2 1083.1,815.3 1083.0,816.5 1082.9,817.6 1082.9,818.8 1082.8,819.9 1082.8,821.1 1082.7,822.2 1082.7,823.4 1082.6,824.5" fill="none" stroke="#008a5c" stroke-width="5.2" stroke-linejoin="round"/>
<polyline points="1082.7,830.9 1084.8,826.4 1086.9,821.9 1089.1,817.5 1091.2,813.1 1093.3,808.7 1095.4,804.3 1097.6,800.0 1099.7,795.8 1101.8,791.5 1103.9,787.3 1106.1,783.2 1108.2,779.0 1110.3,774.9 1112.4,770.8 1114.6,766.8 1116.7,762.8 1118.8,758.8 1120.9,754.8 1123.0,750.9 1125.2,747.0 1127.3,743.2 1129.4,739.3 1131.5,735.5 1133.7,731.8 1135.8,728.0 1137.9,724.3 1140.0,720.6 1142.2,716.9 1144.3,713.3 1146.4,709.7 1148.5,706.1 1150.7,702.5 1152.8,698.9 1154.9,695.4 1157.0,691.9 1159.1,688.5 1161.3,685.0 1163.4,681.6 1165.5,678.2 1167.6,674.8 1169.8,671.4 1171.9,668.1 1174.0,664.7 1176.1,661.4 1178.3,658.1 1180.4,654.9 1182.5,651.6 1184.6,648.4 1186.8,645.2 1188.9,642.0 1191.0,638.8 1193.1,635.6 1195.2,632.5 1197.4,629.4 1199.5,626.2 1201.6,623.1 1203.7,620.1 1205.9,617.0 1208.0,613.9 1210.1,610.9 1212.2,607.8 1214.4,604.8 1216.5,601.8 1218.6,598.8 1220.7,595.8 1222.9,592.9 1225.0,589.9 1227.1,586.9 1229.2,584.0 1231.3,581.0 1233.5,578.1 1235.6,575.2 1237.7,572.3 1239.8,569.4 1242.0,566.5 1244.1,563.6 1246.2,560.7 1248.3,557.8 1250.5,554.9 1252.6,552.1 1254.7,549.2 1256.8,546.3 1259.0,543.5 1261.1,540.6 1263.2,537.8 1265.3,534.9 1267.4,532.1 1269.6,529.2 1271.7,526.4 1273.8,523.6 1275.9,520.7 1278.1,517.9 1280.2,515.0 1282.3,512.2 1284.4,509.3 1286.6,506.5 1288.7,503.7 1290.8,500.8 1292.9,498.0 1295.1,495.1 1297.2,492.2 1299.3,489.4 1301.4,486.5 1303.5,483.6 1305.7,480.8 1307.8,477.9 1309.9,475.0 1312.0,472.1 1314.2,469.2 1316.3,466.3 1318.4,463.4 1320.5,460.4 1322.7,457.5 1324.8,454.6 1326.9,451.6 1329.0,448.6 1331.2,445.7 1333.3,442.7 1335.4,439.7" fill="none" stroke="#cc0000" stroke-width="5.2" stroke-linejoin="round"/>
</g>
<rect x="822.80" y="441.00" width="513.10" height="391.00" fill="none" stroke="#000" stroke-width="4.3"/>
<line x1="824.75" y1="658.20" x2="836.45" y2="658.20" stroke="#000" stroke-width="4.3" />
<line x1="1333.95" y1="658.20" x2="1322.25" y2="658.20" stroke="#000" stroke-width="4.3" />
<line x1="824.75" y1="484.40" x2="836.45" y2="484.40" stroke="#000" stroke-width="4.3" />
<line x1="1333.95" y1="484.40" x2="1322.25" y2="484.40" stroke="#000" stroke-width="4.3" />
<line x1="824.75" y1="745.10" x2="829.95" y2="745.10" stroke="#000" stroke-width="4.3" />
<line x1="1333.95" y1="745.10" x2="1328.75" y2="745.10" stroke="#000" stroke-width="4.3" />
<line x1="824.75" y1="571.30" x2="829.95" y2="571.30" stroke="#000" stroke-width="4.3" />
<line x1="1333.95" y1="571.30" x2="1328.75" y2="571.30" stroke="#000" stroke-width="4.3" />
<line x1="951.02" y1="427.40" x2="951.02" y2="454.80" stroke="#000" stroke-width="4.3" />
<line x1="1079.14" y1="427.40" x2="1079.14" y2="454.80" stroke="#000" stroke-width="4.3" />
<line x1="1207.26" y1="427.40" x2="1207.26" y2="454.80" stroke="#000" stroke-width="4.3" />
<line x1="886.96" y1="434.20" x2="886.96" y2="449.90" stroke="#000" stroke-width="4.3" />
<line x1="1015.08" y1="434.20" x2="1015.08" y2="449.90" stroke="#000" stroke-width="4.3" />
<line x1="1143.20" y1="434.20" x2="1143.20" y2="449.90" stroke="#000" stroke-width="4.3" />
<line x1="1271.32" y1="434.20" x2="1271.32" y2="449.90" stroke="#000" stroke-width="4.3" />
<line x1="951.02" y1="832.00" x2="951.02" y2="818.15" stroke="#000" stroke-width="4.3" />
<line x1="1079.14" y1="832.00" x2="1079.14" y2="818.15" stroke="#000" stroke-width="4.3" />
<line x1="1207.26" y1="832.00" x2="1207.26" y2="818.15" stroke="#000" stroke-width="4.3" />
<line x1="886.96" y1="832.00" x2="886.96" y2="823.05" stroke="#000" stroke-width="4.3" />
<line x1="1015.08" y1="832.00" x2="1015.08" y2="823.05" stroke="#000" stroke-width="4.3" />
<line x1="1143.20" y1="832.00" x2="1143.20" y2="823.05" stroke="#000" stroke-width="4.3" />
<line x1="1271.32" y1="832.00" x2="1271.32" y2="823.05" stroke="#000" stroke-width="4.3" />
<text x="808.30" y="842.60" font-family="Liberation Serif, serif" font-size="38.5" font-weight="bold" font-style="normal" text-anchor="end" fill="#000" >0</text>
<text x="808.30" y="668.80" font-family="Liberation Serif, serif" font-size="38.5" font-weight="bold" font-style="normal" text-anchor="end" fill="#000" >2</text>
<text x="808.30" y="495.00" font-family="Liberation Serif, serif" font-size="38.5" font-weight="bold" font-style="normal" text-anchor="end" fill="#000" >4</text>
<text x="822.90" y="876.40" font-family="Liberation Serif, serif" font-size="38.5" font-weight="bold" font-style="normal" text-anchor="middle" fill="#000" >0</text>
<text x="951.02" y="876.40" font-family="Liberation Serif, serif" font-size="38.5" font-weight="bold" font-style="normal" text-anchor="middle" fill="#000" >2</text>
<text x="1079.14" y="876.40" font-family="Liberation Serif, serif" font-size="38.5" font-weight="bold" font-style="normal" text-anchor="middle" fill="#000" >4</text>
<text x="1207.26" y="876.40" font-family="Liberation Serif, serif" font-size="38.5" font-weight="bold" font-style="normal" text-anchor="middle" fill="#000" >6</text>
<text x="1336.18" y="876.40" font-family="Liberation Serif, serif" font-size="38.5" font-weight="bold" font-style="normal" text-anchor="middle" fill="#000" >8</text>
<line x1="857.10" y1="486.20" x2="887.30" y2="486.20" stroke="#cc0000" stroke-width="5.2" />
<line x1="857.10" y1="531.30" x2="887.30" y2="531.30" stroke="#008a5c" stroke-width="5.2" />
<text x="908.60" y="494.60" font-family="DejaVu Math TeX Gyre, DejaVu Serif, Liberation Serif, serif" font-size="37.8" fill="#c00000" >𝒗</text>
<text x="932.70" y="502.80" font-family="DejaVu Math TeX Gyre, DejaVu Serif, Liberation Serif, serif" font-size="27" fill="#c00000" >𝒙</text>
<text x="909.00" y="541.10" font-family="DejaVu Math TeX Gyre, DejaVu Serif, Liberation Serif, serif" font-size="37.8" fill="#006400" >𝒗</text>
<text x="932.70" y="549.00" font-family="DejaVu Math TeX Gyre, DejaVu Serif, Liberation Serif, serif" font-size="27.4" fill="#006400" >𝒚</text>
<text x="856.50" y="593.00" font-family="Liberation Serif, serif" font-size="40.74545454545454" font-weight="bold" font-style="normal" text-anchor="start" fill="#000" >α</text>
<text x="888.40" y="593.00" font-family="Liberation Serif, serif" font-size="37.8" font-weight="bold" font-style="normal" text-anchor="start" fill="#000" textLength="24.5" lengthAdjust="spacingAndGlyphs">=</text>
<text x="919.90" y="593.00" font-family="Liberation Serif, serif" font-size="37.8" font-weight="bold" font-style="normal" text-anchor="start" fill="#000" >0.05,</text>
<text x="1004.10" y="593.00" font-family="Liberation Serif, serif" font-size="37.8" font-weight="bold" font-style="normal" text-anchor="start" fill="#000" >β</text>
<text x="1031.90" y="593.00" font-family="Liberation Serif, serif" font-size="37.8" font-weight="bold" font-style="normal" text-anchor="start" fill="#000" textLength="24.5" lengthAdjust="spacingAndGlyphs">=</text>
<text x="1063.50" y="593.00" font-family="Liberation Serif, serif" font-size="37.8" font-weight="bold" font-style="normal" text-anchor="start" fill="#000" >0.03</text>
<text x="-749.78" y="748.20" font-family="DejaVu Math TeX Gyre, DejaVu Serif, Liberation Serif, serif" font-size="38.5" fill="#000" transform="rotate(-90)">𝒗</text>
<text x="-726.22" y="756.20" font-family="DejaVu Math TeX Gyre, DejaVu Serif, Liberation Serif, serif" font-size="26.5" fill="#000" transform="rotate(-90)">𝒙</text>
<text x="-704.70" y="748.20" font-family="Liberation Serif, serif" font-size="38.5" font-weight="bold" font-style="normal" text-anchor="start" fill="#000" transform="rotate(-90)">,</text>
<text x="-688.78" y="748.20" font-family="DejaVu Math TeX Gyre, DejaVu Serif, Liberation Serif, serif" font-size="38.5" fill="#000" transform="rotate(-90)">𝒗</text>
<text x="-665.26" y="756.00" font-family="DejaVu Math TeX Gyre, DejaVu Serif, Liberation Serif, serif" font-size="27" fill="#000" transform="rotate(-90)">𝒚</text>
<text transform="rotate(-90)" x="-635.50" y="748.20" font-family="Liberation Serif, serif" font-size="38.5" font-weight="bold" fill="#000">(m s<tspan font-size="32" dy="-10.3" dx="0.6">-</tspan><tspan font-size="26.5" dy="-1.5" dx="0.3">1</tspan><tspan dy="11.8" dx="-0.4">)</tspan></text>
<text x="943.60" y="925.80" font-family="Liberation Serif, serif" font-size="38.5" font-weight="normal" font-style="normal" text-anchor="start" fill="#000" >|</text>
<text x="960.90" y="925.80" font-family="Liberation Serif, serif" font-size="38.5" font-weight="bold" font-style="italic" text-anchor="start" fill="#000" >j</text>
<text x="982.30" y="925.80" font-family="Liberation Serif, serif" font-size="38.5" font-weight="normal" font-style="normal" text-anchor="start" fill="#000" >|</text>
<text x="999.75" y="925.80" font-family="Liberation Serif, serif" font-size="38.5" font-weight="bold" fill="#000" word-spacing="3.2">(×10<tspan font-size="26.5" dy="-15.3">10</tspan><tspan dy="15.3"> A m</tspan><tspan font-size="26.5" dy="-15.3">-2</tspan><tspan dy="15.3">)</tspan></text>
<polyline points="395.3,1032.5 397.9,1037.5 400.4,1042.6 403.0,1047.6 405.6,1052.7 408.1,1057.7 410.7,1062.6 413.3,1067.5 415.9,1072.2 418.4,1076.7 421.0,1081.1 423.6,1085.3 426.1,1089.3 428.7,1093.1 431.3,1096.8 433.8,1100.4 436.4,1103.9 439.0,1107.3 441.5,1110.7 444.1,1114.1 446.7,1117.4 449.3,1120.6 451.8,1123.9 454.4,1127.0 457.0,1130.1 459.5,1133.2 462.1,1136.1 464.7,1139.0 467.2,1141.7 469.8,1144.4 472.4,1147.0 474.9,1149.5 477.5,1152.0 480.1,1154.3 482.7,1156.6 485.2,1158.8 487.8,1160.9 490.4,1162.9 492.9,1164.9 495.5,1166.8 498.1,1168.6 500.6,1170.4 503.2,1172.0 505.8,1173.7 508.4,1175.2 510.9,1176.7 513.5,1178.1 516.1,1179.5 518.6,1180.8 521.2,1182.1 523.8,1183.3 526.3,1184.5 528.9,1185.6 531.5,1186.7 534.0,1187.7 536.6,1188.8 539.2,1189.7 541.8,1190.7 544.3,1191.6 546.9,1192.5 549.5,1193.3 552.0,1194.1 554.6,1194.9 557.2,1195.7 559.7,1196.4 562.3,1197.1 564.9,1197.8 567.4,1198.5 570.0,1199.1 572.6,1199.7 575.2,1200.3 577.7,1200.9 580.3,1201.5 582.9,1202.1 585.4,1202.7 588.0,1203.2 590.6,1203.7 593.1,1204.3 595.7,1204.8 598.3,1205.3 600.8,1205.8 603.4,1206.2 606.0,1206.7 608.6,1207.2 611.1,1207.6 613.7,1208.1 616.3,1208.5 618.8,1208.9 621.4,1209.4 624.0,1209.8 626.5,1210.2 629.1,1210.6 631.7,1211.0 634.2,1211.3 636.8,1211.7 639.4,1212.1 642.0,1212.5 644.5,1212.8 647.1,1213.2 649.7,1213.6 652.2,1213.9 654.8,1214.3 657.4,1214.6 659.9,1214.9 662.5,1215.3 665.1,1215.6 667.7,1216.0 670.2,1216.3 672.8,1216.6 675.4,1217.0 677.9,1217.3 680.5,1217.6 683.1,1218.0 685.6,1218.3 688.2,1218.7 690.8,1219.0 693.3,1219.3 695.9,1219.7 698.5,1220.0 701.1,1220.4 703.6,1220.7 706.2,1221.1 708.8,1221.4 711.3,1221.8 713.9,1222.1 716.5,1222.5 719.0,1222.8 721.6,1223.2 724.2,1223.5 726.7,1223.9 729.3,1224.2 731.9,1224.6 734.5,1224.9 737.0,1225.3 739.6,1225.6 742.2,1226.0 744.7,1226.3 747.3,1226.6 749.9,1226.9 752.4,1227.3 755.0,1227.6 757.6,1227.9 760.1,1228.2 762.7,1228.5 765.3,1228.8 767.9,1229.1 770.4,1229.4 773.0,1229.7 775.6,1229.9 778.1,1230.2 780.7,1230.5 783.3,1230.7 785.8,1230.9 788.4,1231.2 791.0,1231.4 793.5,1231.6 796.1,1231.8 798.7,1232.1 801.3,1232.3 803.8,1232.5 806.4,1232.7 809.0,1232.8 811.5,1233.0 814.1,1233.2 816.7,1233.4 819.2,1233.6 821.8,1233.7 824.4,1233.9 827.0,1234.1 829.5,1234.3 832.1,1234.4 834.7,1234.6 837.2,1234.8 839.8,1234.9 842.4,1235.1 844.9,1235.3 847.5,1235.5 850.1,1235.6 852.6,1235.8 855.2,1236.0 857.8,1236.2 860.4,1236.3 862.9,1236.5 865.5,1236.7 868.1,1236.9 870.6,1237.1 873.2,1237.3 875.8,1237.5 878.3,1237.7 880.9,1238.0 883.5,1238.2 886.0,1238.4 888.6,1238.7 891.2,1238.9 893.8,1239.2 896.3,1239.4 898.9,1239.7 901.5,1240.0 904.0,1240.3 906.6,1240.6" fill="none" stroke="#000" stroke-width="2.2"/>
<g stroke="#008000" stroke-width="1.3" opacity="1">
<line x1="509.02" y1="1163.65" x2="509.02" y2="1176.93"/>
<line x1="509.02" y1="1201.93" x2="509.02" y2="1215.21"/>
<line x1="499.82" y1="1163.65" x2="518.23" y2="1163.65"/>
<line x1="499.82" y1="1215.21" x2="518.23" y2="1215.21"/>
</g>
<g stroke="#008000" stroke-width="1.3" opacity="1">
<line x1="565.90" y1="1176.28" x2="565.90" y2="1189.56"/>
<line x1="565.90" y1="1214.56" x2="565.90" y2="1227.84"/>
<line x1="556.70" y1="1176.28" x2="575.10" y2="1176.28"/>
<line x1="556.70" y1="1227.84" x2="575.10" y2="1227.84"/>
</g>
<g stroke="#008000" stroke-width="1.3" opacity="1">
<line x1="670.45" y1="1201.03" x2="688.85" y2="1201.03"/>
<line x1="670.45" y1="1215.98" x2="688.85" y2="1215.98"/>
</g>
<g stroke="#008000" stroke-width="1.3" opacity="1">
<line x1="793.40" y1="1202.57" x2="793.40" y2="1215.85"/>
<line x1="793.40" y1="1240.85" x2="793.40" y2="1254.13"/>
<line x1="784.20" y1="1202.57" x2="802.60" y2="1202.57"/>
<line x1="784.20" y1="1254.13" x2="802.60" y2="1254.13"/>
</g>
<rect x="384.38" y="1022.04" width="21.8" height="21.8" fill="#fff" stroke="#008000" stroke-width="5.1" stroke-linejoin="round"/>
<rect x="441.25" y="1112.79" width="21.8" height="21.8" fill="#fff" stroke="#008000" stroke-width="5.1" stroke-linejoin="round"/>
<rect x="498.12" y="1178.53" width="21.8" height="21.8" fill="#fff" stroke="#008000" stroke-width="5.1" stroke-linejoin="round"/>
<rect x="555.00" y="1191.16" width="21.8" height="21.8" fill="#fff" stroke="#008000" stroke-width="5.1" stroke-linejoin="round"/>
<rect x="668.75" y="1197.60" width="21.8" height="21.8" fill="#fff" stroke="#008000" stroke-width="5.1" stroke-linejoin="round"/>
<line x1="671.35" y1="1201.03" x2="687.95" y2="1201.03" stroke="#008000" stroke-width="1.3" opacity="0.55"/>
<line x1="671.35" y1="1215.98" x2="687.95" y2="1215.98" stroke="#008000" stroke-width="1.3" opacity="0.55"/>
<rect x="782.50" y="1217.45" width="21.8" height="21.8" fill="#fff" stroke="#008000" stroke-width="5.1" stroke-linejoin="round"/>
<rect x="896.25" y="1229.83" width="21.8" height="21.8" fill="#fff" stroke="#008000" stroke-width="5.1" stroke-linejoin="round"/>
<rect x="338.50" y="984.40" width="602.00" height="334.50" fill="none" stroke="#000" stroke-width="4.3"/>
<line x1="340.45" y1="1215.98" x2="352.15" y2="1215.98" stroke="#000" stroke-width="4.3" />
<line x1="938.55" y1="1215.98" x2="926.85" y2="1215.98" stroke="#000" stroke-width="4.3" />
<line x1="340.45" y1="1112.86" x2="352.15" y2="1112.86" stroke="#000" stroke-width="4.3" />
<line x1="938.55" y1="1112.86" x2="926.85" y2="1112.86" stroke="#000" stroke-width="4.3" />
<line x1="340.45" y1="1009.74" x2="352.15" y2="1009.74" stroke="#000" stroke-width="4.3" />
<line x1="938.55" y1="1009.74" x2="926.85" y2="1009.74" stroke="#000" stroke-width="4.3" />
<line x1="340.45" y1="1267.54" x2="345.65" y2="1267.54" stroke="#000" stroke-width="4.3" />
<line x1="938.55" y1="1267.54" x2="933.35" y2="1267.54" stroke="#000" stroke-width="4.3" />
<line x1="340.45" y1="1164.42" x2="345.65" y2="1164.42" stroke="#000" stroke-width="4.3" />
<line x1="938.55" y1="1164.42" x2="933.35" y2="1164.42" stroke="#000" stroke-width="4.3" />
<line x1="340.45" y1="1061.30" x2="345.65" y2="1061.30" stroke="#000" stroke-width="4.3" />
<line x1="938.55" y1="1061.30" x2="933.35" y2="1061.30" stroke="#000" stroke-width="4.3" />
<line x1="452.15" y1="986.35" x2="452.15" y2="997.85" stroke="#000" stroke-width="4.3" />
<line x1="452.15" y1="1316.95" x2="452.15" y2="1305.45" stroke="#000" stroke-width="4.3" />
<line x1="565.90" y1="986.35" x2="565.90" y2="997.85" stroke="#000" stroke-width="4.3" />
<line x1="565.90" y1="1316.95" x2="565.90" y2="1305.45" stroke="#000" stroke-width="4.3" />
<line x1="679.65" y1="986.35" x2="679.65" y2="997.85" stroke="#000" stroke-width="4.3" />
<line x1="679.65" y1="1316.95" x2="679.65" y2="1305.45" stroke="#000" stroke-width="4.3" />
<line x1="793.40" y1="986.35" x2="793.40" y2="997.85" stroke="#000" stroke-width="4.3" />
<line x1="793.40" y1="1316.95" x2="793.40" y2="1305.45" stroke="#000" stroke-width="4.3" />
<line x1="907.15" y1="986.35" x2="907.15" y2="997.85" stroke="#000" stroke-width="4.3" />
<line x1="907.15" y1="1316.95" x2="907.15" y2="1305.45" stroke="#000" stroke-width="4.3" />
<text x="323.30" y="1329.70" font-family="Liberation Serif, serif" font-size="38.5" font-weight="bold" font-style="normal" text-anchor="end" fill="#000" >0</text>
<text x="323.30" y="1226.58" font-family="Liberation Serif, serif" font-size="38.5" font-weight="bold" font-style="normal" text-anchor="end" fill="#000" >4</text>
<text x="323.30" y="1123.46" font-family="Liberation Serif, serif" font-size="38.5" font-weight="bold" font-style="normal" text-anchor="end" fill="#000" >8</text>
<text x="323.30" y="1020.34" font-family="Liberation Serif, serif" font-size="38.5" font-weight="bold" font-style="normal" text-anchor="end" fill="#000" >12</text>
<text x="338.40" y="1365.20" font-family="Liberation Serif, serif" font-size="38.5" font-weight="bold" font-style="normal" text-anchor="middle" fill="#000" >0</text>
<text x="452.15" y="1365.20" font-family="Liberation Serif, serif" font-size="38.5" font-weight="bold" font-style="normal" text-anchor="middle" fill="#000" >100</text>
<text x="565.90" y="1365.20" font-family="Liberation Serif, serif" font-size="38.5" font-weight="bold" font-style="normal" text-anchor="middle" fill="#000" >200</text>
<text x="679.65" y="1365.20" font-family="Liberation Serif, serif" font-size="38.5" font-weight="bold" font-style="normal" text-anchor="middle" fill="#000" >300</text>
<text x="793.40" y="1365.20" font-family="Liberation Serif, serif" font-size="38.5" font-weight="bold" font-style="normal" text-anchor="middle" fill="#000" >400</text>
<text x="907.15" y="1365.20" font-family="Liberation Serif, serif" font-size="38.5" font-weight="bold" font-style="normal" text-anchor="middle" fill="#000" >500</text>
<path d="M470.30,1289.60 H447.65 V1255.40 H428.65 V1289.60 H384.10" fill="none" stroke="#000" stroke-width="6.8" stroke-linejoin="miter"/>
<polygon points="364.90,1289.60 385.10,1272.80 385.10,1306.40" fill="#000"/>
<path d="M420.3,1240.1 L437.6,1231.5 L433.5,1237.8 H441.5 L437.4,1231.5 L454.7,1240.1 L437.4,1248.7 L441.5,1242.4 H433.5 L437.6,1248.7 Z" fill="#000"/>
<text x="417.50" y="1224.80" font-family="DejaVu Math TeX Gyre, DejaVu Serif, Liberation Serif, serif" font-size="35.5" fill="#000" >Δ</text>
<text x="441.90" y="1225.50" font-family="DejaVu Math TeX Gyre, DejaVu Serif, Liberation Serif, serif" font-size="36" fill="#000" >𝒕</text>
<text x="-1293.00" y="264.00" font-family="Liberation Serif, serif" font-size="38.5" font-weight="normal" font-style="normal" text-anchor="start" fill="#000" transform="rotate(-90)">|</text>
<text x="-1277.00" y="264.00" font-family="Liberation Serif, serif" font-size="38.5" font-weight="bold" font-style="italic" text-anchor="start" fill="#000" transform="rotate(-90)">j</text>
<text x="-1262.80" y="272.50" font-family="Liberation Serif, serif" font-size="25" font-weight="normal" font-style="normal" text-anchor="start" fill="#000" transform="rotate(-90)">C</text>
<text x="-1244.30" y="264.00" font-family="Liberation Serif, serif" font-size="38.5" font-weight="normal" font-style="normal" text-anchor="start" fill="#000" transform="rotate(-90)">|</text>
<text transform="rotate(-90)" x="-1228.50" y="264" font-family="Liberation Serif, serif" font-size="38.5" font-weight="bold" fill="#000" word-spacing="3.0">(×10<tspan font-size="26.5" dy="-11.5" dx="0.6">10</tspan><tspan dy="11.5"> A m</tspan><tspan font-size="32" dy="-10.0" dx="0.9">-</tspan><tspan font-size="26.5" dy="-1.5" dx="1.0">2</tspan><tspan dy="11.5" dx="2.4">)</tspan></text>
<text x="581.60" y="1418.70" font-family="Liberation Serif, serif" font-size="39.5" font-weight="bold" font-style="normal" text-anchor="start" fill="#000" >Δ</text>
<text x="612.40" y="1418.70" font-family="Liberation Serif, serif" font-size="38.5" font-weight="bold" font-style="italic" text-anchor="start" fill="#000" >t</text>
<text x="633.50" y="1418.70" font-family="Liberation Serif, serif" font-size="38.5" font-weight="bold" font-style="normal" text-anchor="start" fill="#000" >(ns)</text>
</svg></body></html>
